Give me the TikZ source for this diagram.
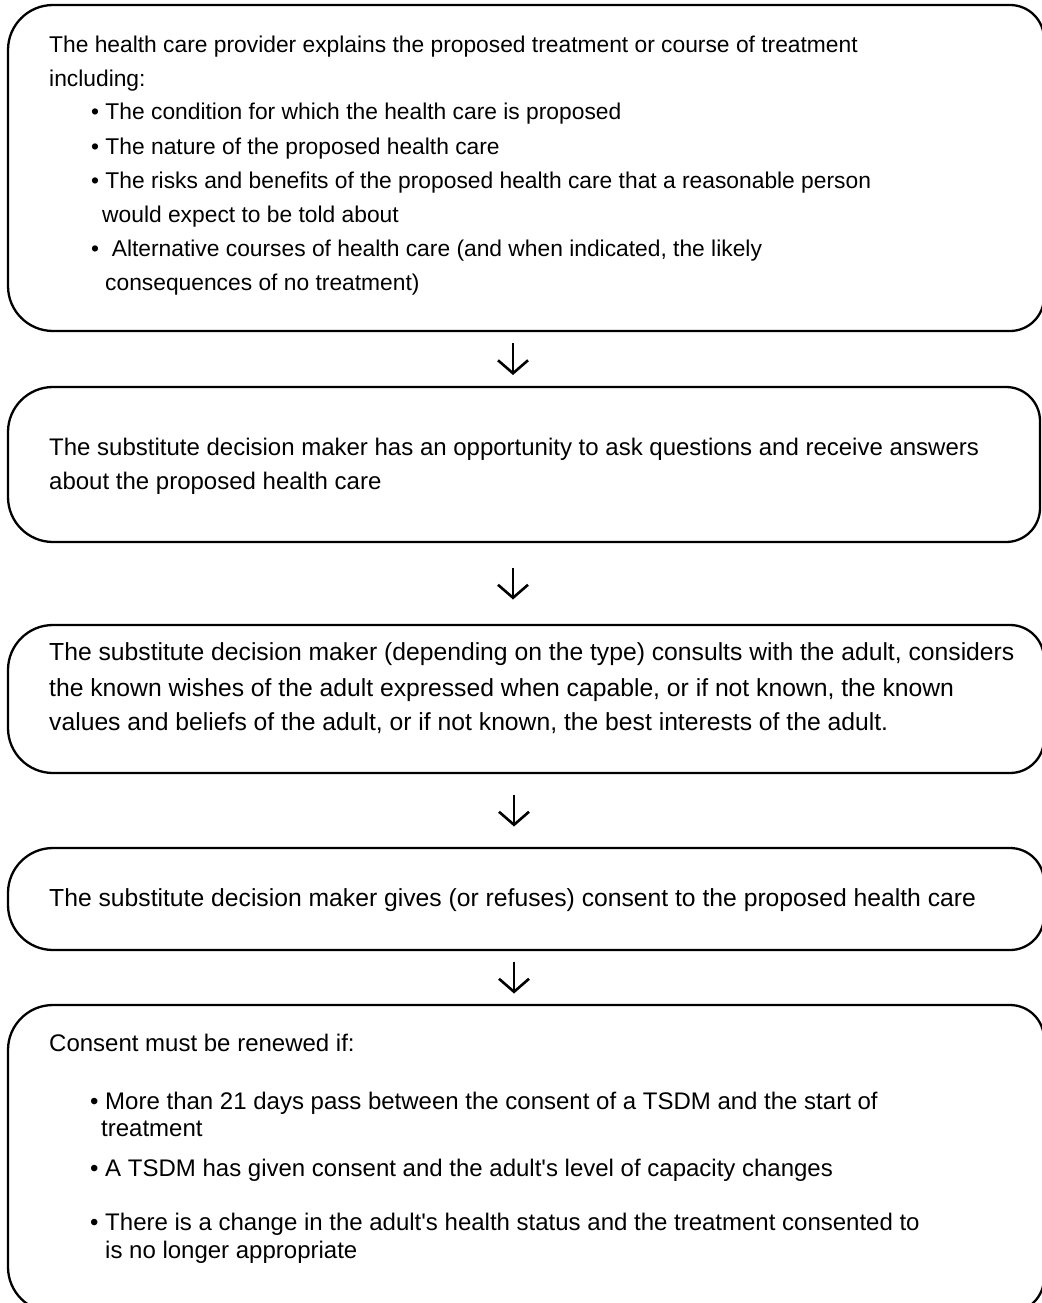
\documentclass[tikz,border=0pt]{standalone}
\usepackage{fontspec}
\setmainfont{Liberation Sans}[Ligatures=TeXOff]
\usetikzlibrary{arrows.meta,calc}
\newcommand\drawflowbox[1]{\draw[boxline] (#1.north) [rounded corners=45pt] -- (#1.north west) -- (#1.south west) -- (#1.south) [rounded corners=34pt] -- (#1.south east) -- (#1.north east) -- (#1.north);}
\begin{document}
\begin{tikzpicture}[x=1pt,y=-1pt,
  boxline/.style={line width=2.3pt},
  flowbox/.style={draw=none,inner sep=0pt,outer sep=0pt,anchor=north west,minimum width=1036pt},
  txt/.style={anchor=base west,inner sep=0pt,font=\fontsize{24}{34}\selectfont},
  txtA/.style={txt,font=\fontsize{22.8}{34}\selectfont},
  txtC/.style={txt,font=\fontsize{24.7}{34}\selectfont},
  arr/.style={line width=2.6pt,-{Straight Barb[length=13pt,width=30pt]}}]
\useasboundingbox (0,0) rectangle (1041,1303);
% boxes
\node[flowbox,minimum height=326pt] (b1) at (8,5) {};
\node[flowbox,minimum height=155pt,minimum width=1032pt] (b2) at (8,387) {};
\node[flowbox,minimum height=148pt] (b3) at (8,625) {};
\node[flowbox,minimum height=102pt] (b4) at (8,848) {};
\node[flowbox,minimum height=307pt] (b5) at (8,1005) {};
\drawflowbox{b1}
\drawflowbox{b2}
\drawflowbox{b3}
\drawflowbox{b4}
\drawflowbox{b5}
% texts box 1
\node[txtA] (t1a) at (49,53) {The health care provider explains the proposed treatment or course of treatment};
\node[txtA] (t1b) at (49,87) {including:};
\node[txtA] (t1c) at (91,120) {• The condition for which the health care is proposed};
\node[txtA] (t1d) at (91,154) {• The nature of the proposed health care};
\node[txtA] (t1e) at (91,188) {• The risks and benefits of the proposed health care that a reasonable person};
\node[txtA] (t1f) at (102,222) {would expect to be told about};
\node[txtA] (t1g) at (91,256) {•\ \ Alternative courses of health care (and when indicated, the likely};
\node[txtA] (t1h) at (105,290) {consequences of no treatment)};
% box 2
\node[txt] (t2a) at (49,455) {The substitute decision maker has an opportunity to ask questions and receive answers};
\node[txt] (t2b) at (49,489) {about the proposed health care};
% box 3
\node[txtC] (t3a) at (49,660) {The substitute decision maker (depending on the type) consults with the adult, considers};
\node[txtC] (t3b) at (49,696) {the known wishes of the adult expressed when capable, or if not known, the known};
\node[txtC] (t3c) at (49,730) {values and beliefs of the adult, or if not known, the best interests of the adult.};
% box 4
\node[txtC] (t4a) at (49,906) {The substitute decision maker gives (or refuses) consent to the proposed health care};
% box 5
\node[txt] (t5a) at (49,1051) {Consent must be renewed if:};
\node[txt] (t5b) at (90,1109) {• More than 21 days pass between the consent of a TSDM and the start of};
\node[txt] (t5c) at (101,1136) {treatment};
\node[txt] (t5d) at (90,1176) {• A TSDM has given consent and the adult's level of capacity changes};
\node[txt] (t5e) at (90,1230) {• There is a change in the adult's health status and the treatment consented to};
\node[txt] (t5f) at (105,1258) {is no longer appropriate};
% arrows
\coordinate (m1) at ($(b1.south)!0.5!(b2.north)+(-12,0)$);
\coordinate (m2) at ($(b2.south)!0.5!(b3.north)+(-12,0)$);
\coordinate (m3) at ($(b3.south)!0.5!(b4.north)+(-12,0)$);
\coordinate (m4) at ($(b4.south)!0.5!(b5.north)+(-12,0)$);
\foreach \m in {m1,m2,m3,m4}{
  \draw[arr] ([yshift=16pt]\m) -- ([yshift=-16pt]\m);
}
\end{tikzpicture}
\end{document}
